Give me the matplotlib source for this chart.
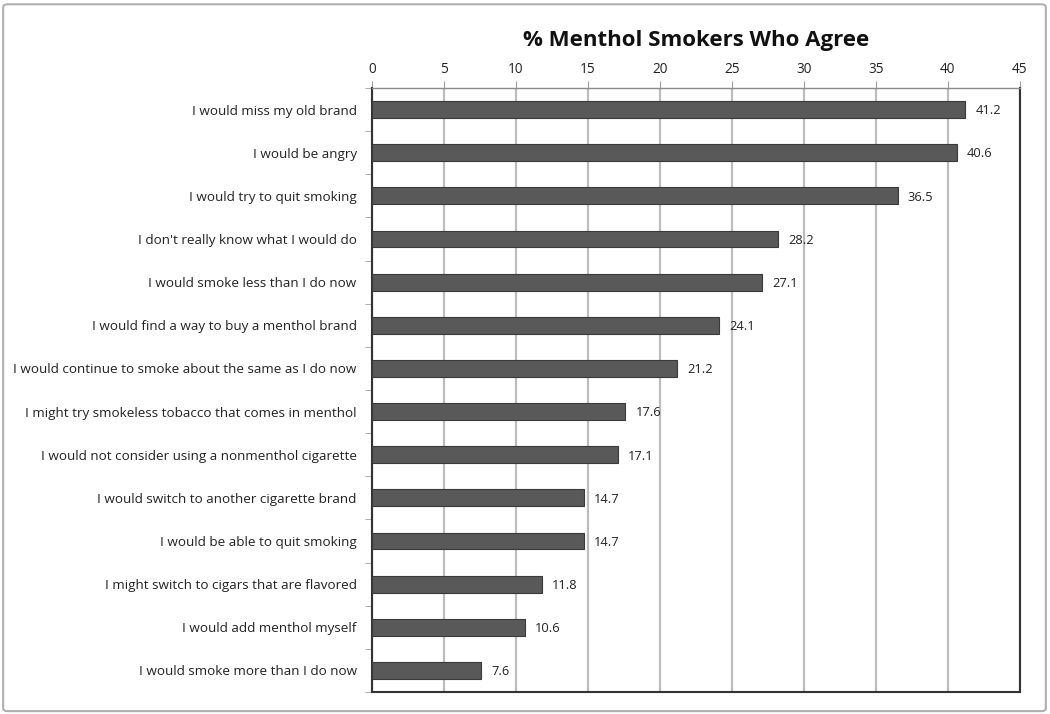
import matplotlib
matplotlib.use("Agg")
import matplotlib.pyplot as plt
from matplotlib.patches import FancyBboxPatch
import numpy as np

categories = [
    "I would miss my old brand",
    "I would be angry",
    "I would try to quit smoking",
    "I don't really know what I would do",
    "I would smoke less than I do now",
    "I would find a way to buy a menthol brand",
    "I would continue to smoke about the same as I do now",
    "I might try smokeless tobacco that comes in menthol",
    "I would not consider using a nonmenthol cigarette",
    "I would switch to another cigarette brand",
    "I would be able to quit smoking",
    "I might switch to cigars that are flavored",
    "I would add menthol myself",
    "I would smoke more than I do now",
]
values = [41.2, 40.6, 36.5, 28.2, 27.1, 24.1, 21.2, 17.6, 17.1, 14.7, 14.7, 11.8, 10.6, 7.6]
xticks = [0, 5, 10, 15, 20, 25, 30, 35, 40, 45]

plt.rcParams['font.family'] = ['Open Sans', 'DejaVu Sans']

fig = plt.figure(figsize=(10.5, 7.14), dpi=100)
fig.patch.set_facecolor('white')
border = FancyBboxPatch((0.003, 0.004), 0.993, 0.99, boxstyle="round,pad=0,rounding_size=0.004",
                        transform=fig.transFigure, fill=False, edgecolor='#b0b0b0', linewidth=1.5)
fig.patches.append(border)

ax = fig.add_axes([0.3543, 0.0308, 0.6171, 0.846])
y = np.arange(len(categories))
ax.barh(y, values, height=0.39, color='#595959', edgecolor='#3a3a3a', linewidth=0.8, zorder=3)
for yi, v in zip(y, values):
    ax.text(v + 0.7, yi + 0.03, f"{v:.1f}", va='center', ha='left', fontsize=9.3, color='#222222')

ax.set_xlim(0, 45)
ax.set_ylim(len(categories) - 0.5, -0.5)
ax.set_xticks(xticks)
ax.set_xticklabels([str(t) for t in xticks], fontsize=9.8, color='#222222')
ax.xaxis.tick_top()
ax.tick_params(axis='x', direction='out', length=5, color='#a0a0a0', pad=3)
ax.set_yticks(y)
ax.set_yticklabels(categories, fontsize=9.7, color='#222222')
ax.set_yticks(np.arange(-0.5, len(categories), 1.0), minor=True)
ax.tick_params(axis='y', which='major', length=0, pad=11)
ax.tick_params(axis='y', which='minor', length=5, color='#a0a0a0', direction='out')
ax.grid(axis='x', color='#bdbdbd', linewidth=1.6, zorder=0)
ax.set_axisbelow(True)
for s in ['left', 'bottom', 'right']:
    ax.spines[s].set_color('#333333')
    ax.spines[s].set_linewidth(1.5)
ax.spines['top'].set_color('#8a8a8a')
ax.spines['top'].set_linewidth(1.0)

fig.text(0.663, 0.943, "% Menthol Smokers Who Agree", ha='center', va='center',
         fontsize=16, fontweight='bold', color='#111111')

fig.savefig("out.png", dpi=100)
